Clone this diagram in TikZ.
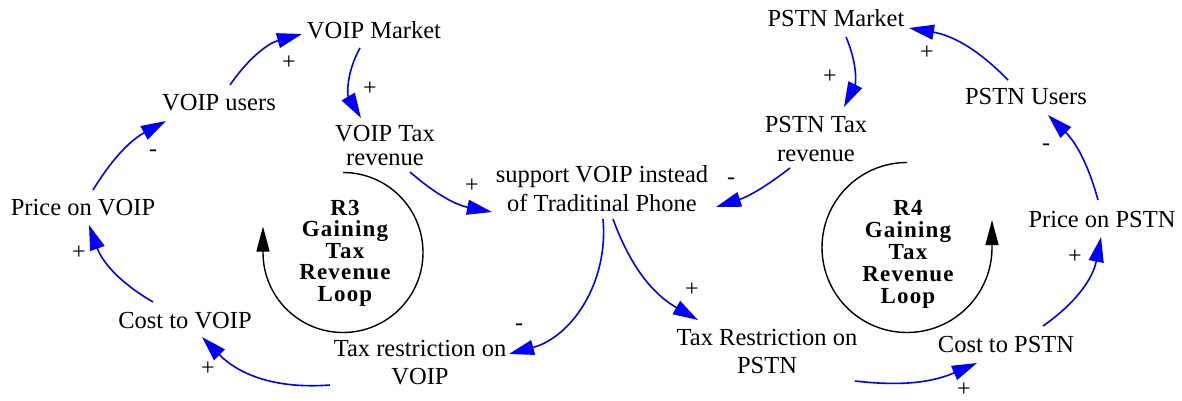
\documentclass[tikz,border=0pt]{standalone}
\usepackage{fontspec}
\setmainfont{Liberation Serif}
\newfontfamily\loopfont[LetterSpace=5]{Liberation Serif}
\usetikzlibrary{arrows.meta,calc}
\newcommand\twol[3]{\vtop{\baselineskip=#3pt\halign{\hfil##\hfil\cr#1\cr#2\cr}}}
\newcommand\fivel[6]{\vtop{\baselineskip=#6pt\halign{\hfil##\hfil\cr#1\cr#2\cr#3\cr#4\cr#5\cr}}}
\tikzset{
 var/.style={anchor=base, inner sep=0pt, font=\fontsize{24.5}{28}\selectfont},
 pol/.style={inner sep=0pt, font=\fontsize{24}{28}\selectfont},
 lnk/.style={blue, line width=1.6pt, -{Triangle[length=25pt,width=15pt]}},
 loopline/.style={black, line width=1.4pt, -{Triangle[length=25pt,width=13pt]}},
 looptext/.style={anchor=base, inner sep=0pt, font=\loopfont\bfseries\fontsize{23}{21}\selectfont},
}
\begin{document}
\begin{tikzpicture}[x=1pt,y=1pt]
\useasboundingbox (0,0) rectangle (1182,400);
% variables
\node[var] (vm) at (374,362) {VOIP Market};
\node[var] (vu) at (219,290) {VOIP users};
\node[var] (pv) at (83,185) {Price on VOIP};
\node[var] (cv) at (185,72) {Cost to VOIP};
\node[var] (trv) at (420,44) {\twol{Tax restriction on}{VOIP}{28}};
\node[var] (vtr) at (385,259) {\twol{VOIP Tax}{revenue}{24}};
\node[var] (sup) at (602,218) {\twol{support VOIP instead}{of Traditinal Phone}{29}};
\node[var] (ptr) at (816,268) {\twol{PSTN Tax}{revenue}{29}};
\node[var] (pm) at (836,373) {PSTN Market};
\node[var] (pu) at (1026,296) {PSTN Users};
\node[var] (pp) at (1102,173) {Price on PSTN};
\node[var] (cp) at (1006,48) {Cost to PSTN};
\node[var] (trp) at (767,55) {\twol{Tax Restriction on}{PSTN}{28}};
% links
\draw[lnk] ($(vu.base)+(11,25)$) to[bend left=20] ($(vm.base)+(-72,4)$);
\draw[lnk] ($(vm.base)+(-14,-10)$) to[bend right=30] ($(vtr.base)+(-24,23)$);
\draw[lnk] ($(pv.base)+(10,25)$) to[bend left=15] ($(vu.base)+(-53,-11)$);
\draw[lnk] ($(cv.base)+(-32,26)$) to[bend left=20] ($(pv.base)+(6,-10)$);
\draw[lnk] ($(trv.base)+(-90,-29)$) to[bend left=25] ($(cv.base)+(17,-9)$);
\draw[lnk] ($(vtr.base)+(25,-31)$) to[bend right=15] ($(sup.base)+(-110,-30)$);
\draw[lnk] ($(ptr.base)+(-26,-36)$) to[bend left=10] ($(sup.base)+(114,-25)$);
\draw[lnk] ($(sup.base)+(1,-37)$) to[bend left=40] ($(trv.base)+(89,2)$);
\draw[lnk] ($(sup.base)+(11,-37)$) to[bend right=20] ($(trp.base)+(-69,25)$);
\draw[lnk] ($(pm.base)+(10,-10)$) to[bend left=25] ($(ptr.base)+(28,25)$);
\draw[lnk] ($(pu.base)+(-18,24)$) to[bend right=18] ($(pm.base)+(73,-1)$);
\draw[lnk] ($(pp.base)+(-4,27)$) to[bend right=15] ($(pu.base)+(22,-11)$);
\draw[lnk] ($(cp.base)+(37,26)$) to[bend right=22] ($(pp.base)+(-1,-10)$);
\draw[lnk] ($(trp.base)+(88,-36)$) to[bend right=15] ($(cp.base)+(-29,-11)$);
% polarities
\node[pol] (l1) at (289,337) {+};
\node[pol] (l2) at (370,311) {+};
\node[pol] (l3) at (153,247) {-};
\node[pol] (l4) at (79,147) {+};
\node[pol] (l5) at (208,31) {+};
\node[pol] (l6) at (472,214) {+};
\node[pol] (l7) at (731,219) {-};
\node[pol] (l8) at (519,73) {-};
\node[pol] (l9) at (692,110) {+};
\node[pol] (l10) at (830,323) {+};
\node[pol] (l11) at (927,347) {+};
\node[pol] (l12) at (1046,253) {-};
\node[pol] (l13) at (1075,143) {+};
\node[pol] (l14) at (964,10) {+};
% loops
\coordinate (r3c) at (343,147.5);
\draw[loopline] ($(r3c)+(0,80)$) arc[start angle=90, end angle=-180, radius=80pt] -- ++(0,26);
\coordinate (r4c) at (907,152.5);
\draw[loopline] ($(r4c)+(0,85)$) arc[start angle=90, end angle=360, radius=85pt] -- ++(0,27.5);
\node[looptext] (r3) at (345,185) {\fivel{R3}{Gaining}{Tax}{Revenue}{Loop}{21.5}};
\node[looptext] (r4) at (908,185) {\fivel{R4}{Gaining}{Tax}{Revenue}{Loop}{22}};
\end{tikzpicture}
\end{document}
